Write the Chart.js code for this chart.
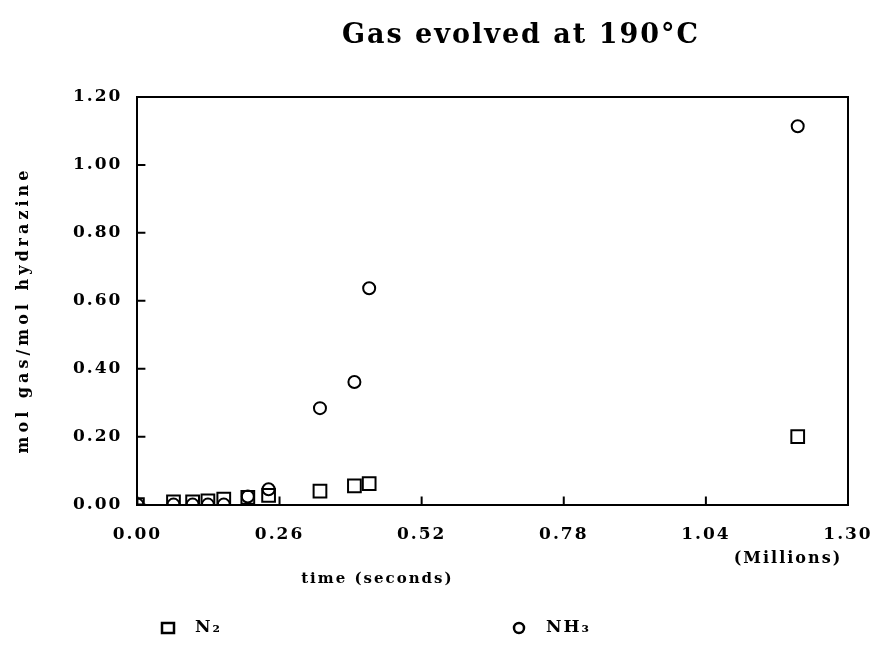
<!DOCTYPE html>
<html>
<head>
<meta charset="utf-8">
<script src="https://cdn.jsdelivr.net/npm/chart.js@4.4.1/dist/chart.umd.min.js"></script>
<style>
  html, body { margin: 0; padding: 0; background: #fff; }
  #wrap { width: 876px; height: 648px; }
</style>
</head>
<body>
<div id="wrap"><canvas id="gasChart" width="876" height="648"></canvas></div>
<script>
// datos (tiempo en millones de segundos)
const tiempo = [0, 0.066, 0.101, 0.129, 0.158, 0.202, 0.240, 0.334, 0.397, 0.424, 1.208];
const molN2 = [0, 0.008, 0.008, 0.011, 0.016, 0.021, 0.027, 0.040, 0.055, 0.062, 0.200];
const molNH3 = [0, 0, 0, 0, 0, 0.024, 0.045, 0.284, 0.361, 0.637, 1.114];
const xTicks = [0, 0.26, 0.52, 0.78, 1.04, 1.30];
const yTicks = [0, 0.2, 0.4, 0.6, 0.8, 1.0, 1.2];
const seriesNames = ["N\u2082", "NH\u2083"];

const serif = "'DejaVu Serif', 'Liberation Serif', serif";

function toPoints(xs, ys) {
  return xs.map((x, i) => ({ x: x, y: ys[i] }));
}

// Espaciado de letras como en la grafica original
const spacing = {
  id: "spacing",
  beforeLayout(chart) {
    chart.ctx.letterSpacing = "2px";
  },
  beforeDraw(chart) {
    chart.ctx.letterSpacing = "2px";
  },
};

// Marco, ticks hacia adentro, titulos, textos extra y leyenda
const extras = {
  id: "extras",
  afterDraw(chart) {
    const ctx = chart.ctx;
    const area = chart.chartArea;
    const xs = chart.scales.x;
    const ys = chart.scales.y;
    ctx.save();
    ctx.strokeStyle = "#000";
    ctx.lineWidth = 2;
    ctx.beginPath();
    ctx.moveTo(area.left, area.top);
    ctx.lineTo(area.right, area.top);
    ctx.lineTo(area.right, area.bottom);
    ctx.stroke();

    ctx.beginPath();
    xTicks.forEach((v) => {
      const px = xs.getPixelForValue(v);
      ctx.moveTo(px, area.bottom);
      ctx.lineTo(px, area.bottom - 8);
    });
    yTicks.forEach((v) => {
      const py = ys.getPixelForValue(v);
      ctx.moveTo(area.left, py);
      ctx.lineTo(area.left + 8, py);
    });
    ctx.stroke();

    ctx.fillStyle = "#000";
    ctx.textAlign = "center";
    ctx.textBaseline = "middle";

    // titulo principal
    ctx.letterSpacing = "2px";
    ctx.font = "bold 27px " + serif;
    ctx.fillText("Gas evolved at 190\u00b0C", 521, 36);

    // titulo eje y
    ctx.save();
    ctx.translate(24, 310);
    ctx.rotate(-Math.PI / 2);
    ctx.letterSpacing = "4px";
    ctx.font = "bold 16px " + serif;
    ctx.fillText("mol gas/mol hydrazine", 0, 0);
    ctx.restore();

    ctx.letterSpacing = "2px";
    ctx.font = "bold 16px " + serif;
    ctx.fillText("(Millions)", area.right - 60, area.bottom + 54);
    ctx.font = "bold 15px " + serif;
    ctx.fillText("time (seconds)", area.left + 240, area.bottom + 75);

    // leyenda
    const legendY = 628;
    const legendX = [168, 519];
    chart.data.datasets.forEach((ds, i) => {
      const x = legendX[i];
      ctx.lineWidth = 2.5;
      ctx.beginPath();
      if (ds.pointStyle === "rect") {
        ctx.rect(x - 6, legendY - 5, 12, 10);
      } else {
        ctx.arc(x, legendY, 5, 0, Math.PI * 2);
      }
      ctx.stroke();
      ctx.textAlign = "left";
      ctx.font = "bold 17px " + serif;
      ctx.fillText(ds.label, x + 27, legendY);
    });
    ctx.restore();
  },
};

const ctx = document.getElementById("gasChart");

new Chart(ctx, {
  type: "scatter",
  data: {
    datasets: [
      {
        label: seriesNames[0],
        data: toPoints(tiempo, molN2),
        pointStyle: "rect",
        pointRadius: 9,
        borderColor: "#000",
        backgroundColor: "rgba(255,255,255,0)",
        borderWidth: 2,
      },
      {
        label: seriesNames[1],
        data: toPoints(tiempo, molNH3),
        pointStyle: "circle",
        pointRadius: 6,
        borderColor: "#000",
        backgroundColor: "rgba(255,255,255,0)",
        borderWidth: 2,
      },
    ],
  },
  options: {
    responsive: false,
    animation: false,
    layout: {
      padding: { left: 58, right: 0, top: 97, bottom: 83 },
    },
    plugins: {
      legend: { display: false },
      tooltip: { enabled: false },
      title: { display: false },
    },
    scales: {
      x: {
        type: "linear",
        min: 0,
        max: 1.3,
        afterBuildTicks: (scale) => {
          scale.ticks = xTicks.map((v) => ({ value: v }));
        },
        afterFit: (scale) => {
          scale.paddingRight = 28;
        },
        grid: { display: false, drawTicks: false },
        border: { display: true, color: "#000", width: 2 },
        ticks: {
          color: "#000",
          padding: 20,
          maxRotation: 0,
          font: { family: serif, size: 17, weight: "bold" },
          callback: (v) => Number(v).toFixed(2),
        },
      },
      y: {
        type: "linear",
        min: 0,
        max: 1.2,
        afterBuildTicks: (scale) => {
          scale.ticks = yTicks.map((v) => ({ value: v }));
        },
        grid: { display: false, drawTicks: false },
        border: { display: true, color: "#000", width: 2 },
        title: { display: false },
        ticks: {
          color: "#000",
          padding: 15,
          font: { family: serif, size: 17, weight: "bold" },
          callback: (v) => Number(v).toFixed(2),
        },
      },
    },
  },
  plugins: [spacing, extras],
});
</script>
</body>
</html>
